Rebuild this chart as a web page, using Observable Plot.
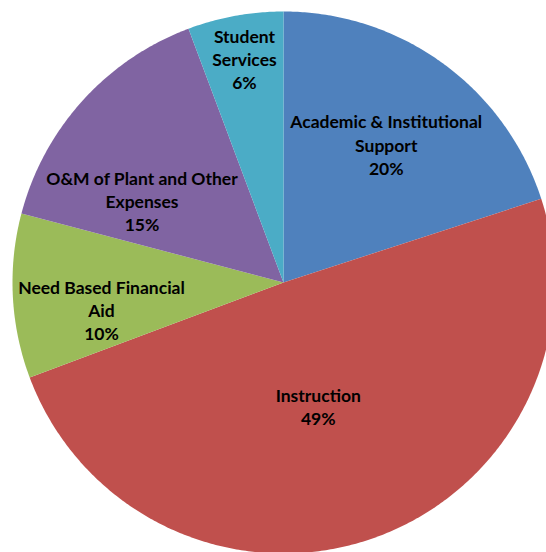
<!DOCTYPE html>
<html>
<head>
<meta charset="utf-8">
<script src="https://cdn.jsdelivr.net/npm/d3@7"></script>
<script src="https://cdn.jsdelivr.net/npm/@observablehq/plot@0.6"></script>
<style>
  html, body { margin: 0; padding: 0; background: #fff; }
  #chart { width: 546px; height: 552px; overflow: hidden; }
</style>
</head>
<body>
<div id="chart"></div>
<script>
// Data (clockwise from 12 o'clock)
const categories = [
  "Academic & Institutional Support",
  "Instruction",
  "Need Based Financial Aid",
  "O&M of Plant and Other Expenses",
  "Student Services"
];
const values = [20.0, 49.3, 9.8, 15.2, 5.7];
const labelLines = [
  "Academic & Institutional\nSupport",
  "Instruction",
  "Need Based Financial\nAid",
  "O&M of Plant and Other\nExpenses",
  "Student\nServices"
];
const colors = ["#4F81BD", "#C0504D", "#9BBB59", "#8064A2", "#4BACC6"];

// Layout (label placement: angle in degrees clockwise from top, radius fraction)
const labelAngle = [37, 164.5, 261, 299.5, 350];
const labelRadius = [0.63, 0.48, 0.68, 0.60, 0.83];
const cx = 283, cy = 282, R = 271;

const total = d3.sum(values);
const arcs = d3.pie().sort(null).value(d => d)(values);

const features = arcs.map((a, i) => {
  const ring = [[0, 0]];
  const n = Math.max(4, Math.ceil((a.endAngle - a.startAngle) / (Math.PI / 360)));
  for (let k = 0; k <= n; k++) {
    const t = a.startAngle + (a.endAngle - a.startAngle) * k / n;
    ring.push([Math.sin(t), Math.cos(t)]);
  }
  ring.push([0, 0]);
  return {type: "Feature", properties: {name: categories[i]}, geometry: {type: "Polygon", coordinates: [ring]}};
});

const labels = categories.map((c, i) => {
  const t = labelAngle[i] * Math.PI / 180;
  return {
    name: c,
    x: labelRadius[i] * Math.sin(t),
    y: labelRadius[i] * Math.cos(t),
    text: labelLines[i] + "\n" + Math.round(values[i] / total * 100) + "%"
  };
});

const chart = Plot.plot({
  width: 546,
  height: 552,
  margin: 0,
  style: {background: "#fff"},
  projection: () => d3.geoIdentity().reflectY(true).scale(R).translate([cx, cy]),
  color: {domain: categories, range: colors},
  marks: [
    Plot.geo(features, {fill: d => d.properties.name, stroke: "none"}),
    Plot.text(labels, {
      x: "x", y: "y", text: "text",
      dy: -2,
      fontFamily: "Lato, 'Open Sans', sans-serif",
      fontWeight: "bold",
      fontSize: 17.5,
      lineHeight: 1.32,
      fill: "#000"
    })
  ]
});
document.getElementById("chart").appendChild(chart);
</script>
</body>
</html>
